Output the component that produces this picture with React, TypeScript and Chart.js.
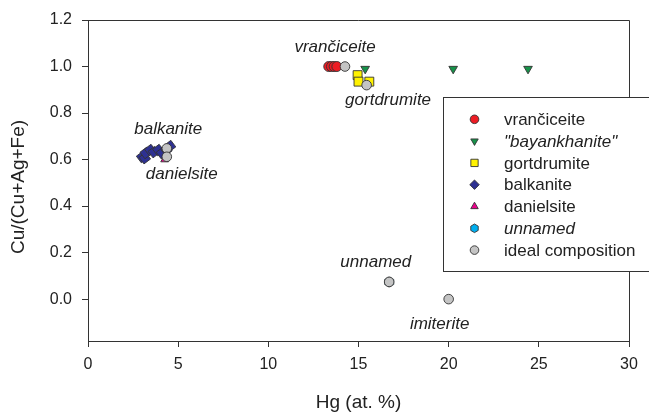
import React, { useEffect, useRef } from "react";
import { Chart, registerables } from "chart.js";

Chart.register(...registerables);

// ---- data ----
const vranciceiteHg = [13.35, 13.5, 13.65, 13.8];
const vranciceiteCu = [1.0, 1.0, 1.0, 1.0];

const bayankhaniteHg = [15.37, 20.25, 24.4];
const bayankhaniteCu = [0.99, 0.99, 0.99];

const gortdrumiteHg = [14.95, 15.0, 15.6];
const gortdrumiteCu = [0.963, 0.935, 0.935];

const balkaniteHg = [3.0, 3.15, 3.2, 3.45, 3.65, 3.9, 4.1, 4.35, 4.55];
const balkaniteCu = [0.611, 0.606, 0.628, 0.641, 0.632, 0.641, 0.628, 0.641, 0.658];

const danielsiteHg = [4.25];
const danielsiteCu = [0.6];

const unnamedHg = [16.7];
const unnamedCu = [0.074];

const idealHg = [14.25, 15.45, 4.37, 4.37, 16.7, 20.0];
const idealCu = [1.0, 0.92, 0.648, 0.612, 0.074, 0.0];

const xTicks = [0, 5, 10, 15, 20, 25, 30];
const yTicks = [0, 0.2, 0.4, 0.6, 0.8, 1.0, 1.2];

const labelTexts = ["vrančiceite", "gortdrumite", "balkanite", "danielsite", "unnamed", "imiterite"];
const labelHg = [13.7, 16.64, 4.45, 5.2, 15.96, 19.5];
const labelCu = [1.084, 0.856, 0.731, 0.538, 0.159, -0.108];

const legendNames = ["vrančiceite", "\"bayankhanite\"", "gortdrumite", "balkanite", "danielsite", "unnamed", "ideal composition"];
const legendItalic = [false, true, false, false, false, true, false];

const yTitle = "Cu/(Cu+Ag+Fe)";
const xTitle = "Hg (at. %)";

const FONT = "'Liberation Sans', Arial, Helvetica, sans-serif";
const EDGE = "#333333";
const colors = {
  red: "#ed1c24",
  green: "#17924a",
  yellow: "#fff200",
  navy: "#2e3192",
  magenta: "#ec008c",
  cyan: "#00aeef",
  gray: "#c4c4c4",
};
const legendColors = [colors.red, colors.green, colors.yellow, colors.navy, colors.magenta, colors.cyan, colors.gray];
const legendShapes = ["circle", "triDown", "square", "diamond", "triUp", "hexagon", "circle"];

const zip = (xs: number[], ys: number[]) => xs.map((x, i) => ({ x, y: ys[i] }));

function drawMarker(ctx: CanvasRenderingContext2D, shape: string, x: number, y: number, r: number, fill: string) {
  ctx.save();
  ctx.beginPath();
  if (shape === "circle") {
    ctx.arc(x, y, r, 0, Math.PI * 2);
  } else if (shape === "triDown" || shape === "triUp") {
    const s = shape === "triDown" ? -1 : 1;
    for (let k = 0; k < 3; k++) {
      const a = (k * 2 * Math.PI) / 3;
      const px = x + Math.sin(a) * r;
      const py = y - s * Math.cos(a) * r;
      if (k === 0) ctx.moveTo(px, py);
      else ctx.lineTo(px, py);
    }
    ctx.closePath();
  } else if (shape === "square") {
    const h = r * 0.85;
    ctx.rect(x - h, y - h, 2 * h, 2 * h);
  } else if (shape === "diamond") {
    ctx.moveTo(x, y - r * 1.1);
    ctx.lineTo(x + r * 1.1, y);
    ctx.lineTo(x, y + r * 1.1);
    ctx.lineTo(x - r * 1.1, y);
    ctx.closePath();
  } else if (shape === "hexagon") {
    for (let k = 0; k < 6; k++) {
      const a = (k * Math.PI) / 3;
      const px = x + Math.sin(a) * r;
      const py = y - Math.cos(a) * r;
      if (k === 0) ctx.moveTo(px, py);
      else ctx.lineTo(px, py);
    }
    ctx.closePath();
  }
  ctx.fillStyle = fill;
  ctx.fill();
  ctx.lineWidth = 0.9;
  ctx.strokeStyle = EDGE;
  ctx.stroke();
  ctx.restore();
}

const hexCanvas = (() => {
  if (typeof document === "undefined") return "circle";
  const c = document.createElement("canvas");
  c.width = 12;
  c.height = 12;
  const ctx = c.getContext("2d");
  if (ctx) drawMarker(ctx, "hexagon", 6, 6, 5, colors.cyan);
  return c;
})();

const framePlugin = {
  id: "frame",
  afterDatasetsDraw(chart: any) {
    const { ctx, chartArea } = chart;
    const xs = chart.scales.x;
    const ys = chart.scales.y;
    ctx.save();
    ctx.strokeStyle = EDGE;
    ctx.lineWidth = 1;
    ctx.beginPath();
    ctx.moveTo(chartArea.left, chartArea.top + 0.5);
    ctx.lineTo(chartArea.right + 0.5, chartArea.top + 0.5);
    ctx.lineTo(chartArea.right + 0.5, chartArea.bottom);
    ctx.stroke();

    // y-axis title
    ctx.save();
    ctx.translate(18.5, 187);
    ctx.rotate(-Math.PI / 2);
    ctx.font = `19px ${FONT}`;
    ctx.fillStyle = "#222";
    ctx.textAlign = "center";
    ctx.textBaseline = "middle";
    ctx.fillText(yTitle, 0, 0);
    ctx.restore();

    // annotations
    ctx.font = `italic 17px ${FONT}`;
    ctx.fillStyle = "#222";
    ctx.textAlign = "center";
    ctx.textBaseline = "middle";
    labelTexts.forEach((t, i) => {
      ctx.fillText(t, xs.getPixelForValue(labelHg[i]), ys.getPixelForValue(labelCu[i]));
    });

    // legend
    const bx = 443.5, by = 97.5, bw = 220, bh = 174;
    ctx.fillStyle = "#fff";
    ctx.fillRect(bx, by, bw, bh);
    ctx.strokeStyle = EDGE;
    ctx.strokeRect(bx, by, bw, bh);
    legendNames.forEach((name, i) => {
      const yy = 119.3 + i * 21.8;
      drawMarker(ctx, legendShapes[i], 474.5, yy, 4.3, legendColors[i]);
      ctx.font = `${legendItalic[i] ? "italic " : ""}17px ${FONT}`;
      ctx.fillStyle = "#222";
      ctx.textAlign = "left";
      ctx.textBaseline = "middle";
      ctx.fillText(name, 504, yy + 1);
    });
    ctx.restore();
  },
};

export default function App() {
  const ref = useRef<HTMLCanvasElement>(null);
  useEffect(() => {
    if (!ref.current) return;
    const common = { borderColor: EDGE, borderWidth: 0.9 };
    const chart = new Chart(ref.current, {
      type: "scatter",
      data: {
        datasets: [
          { label: "vrančiceite", data: zip(vranciceiteHg, vranciceiteCu), backgroundColor: colors.red, pointStyle: "circle", pointRadius: 5, order: 1, ...common },
          { label: "\"bayankhanite\"", data: zip(bayankhaniteHg, bayankhaniteCu), backgroundColor: colors.green, pointStyle: "triangle", rotation: 180, pointRadius: 5, order: 1, ...common },
          { label: "gortdrumite", data: zip(gortdrumiteHg, gortdrumiteCu), backgroundColor: colors.yellow, pointStyle: "rect", pointRadius: 6.3, order: 1, ...common },
          { label: "balkanite", data: zip(balkaniteHg, balkaniteCu), backgroundColor: colors.navy, pointStyle: "rectRot", pointRadius: 5.8, rotation: 8, order: 1, ...common },
          { label: "danielsite", data: zip(danielsiteHg, danielsiteCu), backgroundColor: colors.magenta, pointStyle: "triangle", pointRadius: 4.5, order: 1, ...common },
          { label: "unnamed", data: zip(unnamedHg, unnamedCu), backgroundColor: colors.cyan, pointStyle: hexCanvas as any, pointRadius: 5, order: 1, ...common },
          { label: "ideal composition", data: zip(idealHg, idealCu), backgroundColor: colors.gray, pointStyle: "circle", pointRadius: 4.8, order: 0, ...common },
        ],
      },
      options: {
        responsive: false,
        animation: false,
        events: [],
        layout: { padding: { top: 20, right: 20, left: 0, bottom: 0 } },
        plugins: { legend: { display: false }, tooltip: { enabled: false } },
        scales: {
          x: {
            type: "linear",
            min: 0,
            max: 30,
            afterFit: (s: any) => { s.height = 73; },
            afterBuildTicks: (s: any) => { s.ticks = xTicks.map((v) => ({ value: v })); },
            grid: { drawOnChartArea: false, drawTicks: true, tickLength: 6, color: EDGE, tickWidth: 1 },
            border: { display: true, color: EDGE, width: 1 },
            ticks: { font: { family: FONT, size: 16 }, color: "#222", padding: 8, maxRotation: 0, callback: (v: any) => String(v) },
            title: { display: true, text: xTitle, font: { family: FONT, size: 19 }, color: "#222", padding: { top: 0, bottom: 0 } },
          },
          y: {
            type: "linear",
            min: -0.18,
            max: 1.2,
            afterFit: (s: any) => { s.width = 88; },
            afterBuildTicks: (s: any) => { s.ticks = yTicks.map((v) => ({ value: v })); },
            grid: { drawOnChartArea: false, drawTicks: true, tickLength: 6, color: EDGE, tickWidth: 1 },
            border: { display: true, color: EDGE, width: 1 },
            ticks: { font: { family: FONT, size: 16 }, color: "#222", padding: 10, callback: (v: any) => Number(v).toFixed(1) },
            title: { display: false },
          },
        },
      },
      plugins: [framePlugin],
    });
    return () => chart.destroy();
  }, []);
  return (
    <div style={{ position: "absolute", left: 0, top: 0, width: 649, height: 414, background: "#fff" }}>
      <canvas ref={ref} width={649} height={414} style={{ display: "block" }} />
    </div>
  );
}
